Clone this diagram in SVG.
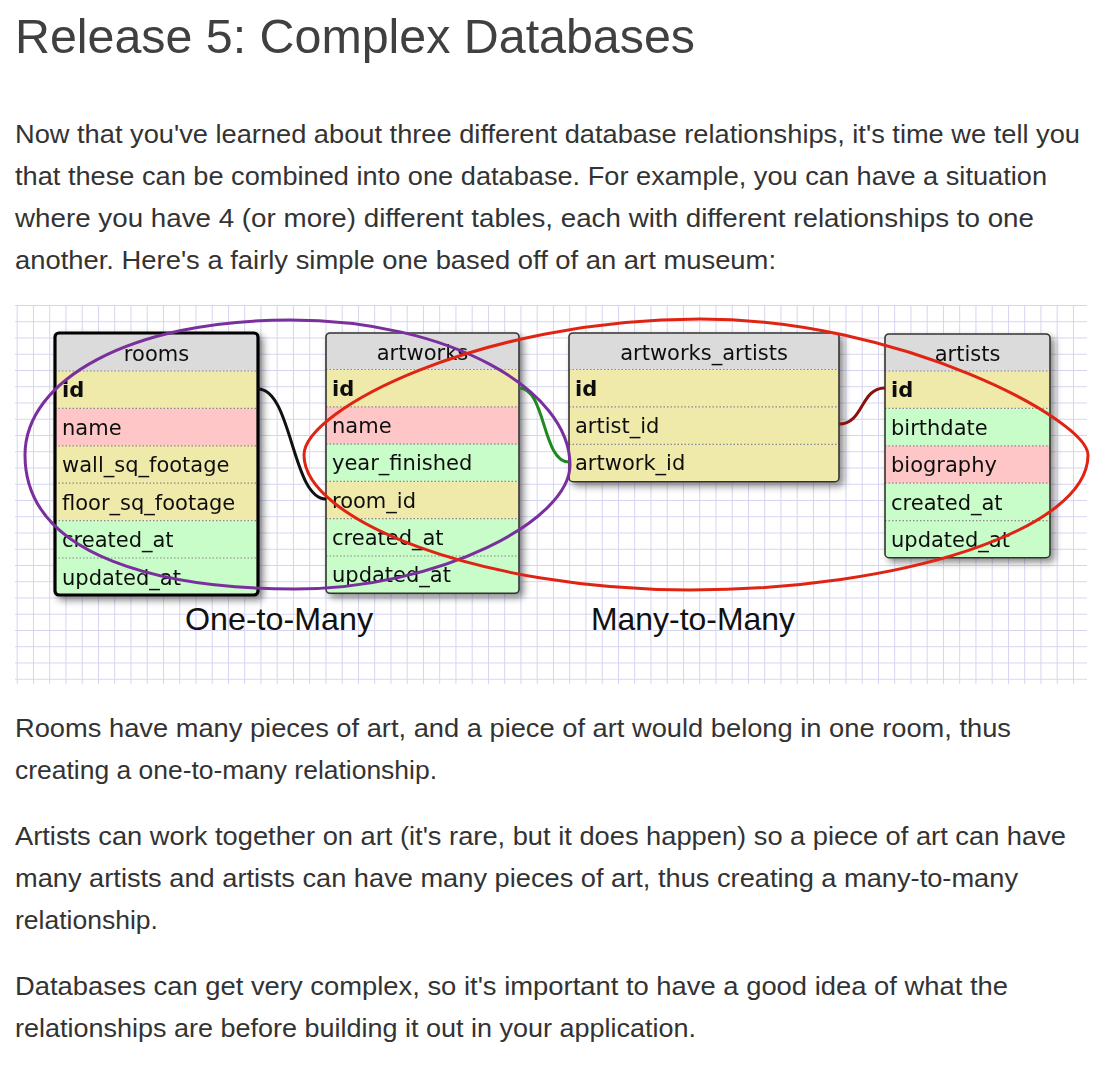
<svg xmlns="http://www.w3.org/2000/svg" width="1104" height="1072" viewBox="0 0 1104 1072">
<style>
.pg{font-family:"Liberation Sans",Arial,sans-serif;font-size:26px;fill:#333}
.ttl{font-family:"Liberation Sans",Arial,sans-serif;font-size:48px;fill:#404040}
.lbl{font-family:"Liberation Sans",Arial,sans-serif;font-size:32px;fill:#111}
.f{font-family:"DejaVu Sans",Verdana,sans-serif;font-size:21px;fill:#111}
.pk{font-weight:bold}
.hd{fill:#dbdbdb}
.y{fill:#efe9aa}
.p{fill:#fec6c6}
.g{fill:#c8fcc8}
.sep{stroke:#888;stroke-width:1.2;stroke-dasharray:1.5 2;fill:none}
.bd{fill:none;stroke:#333;stroke-width:1.6}
.bdk{fill:none;stroke:#000;stroke-width:3.2}
.conn{fill:none;stroke-width:3}
.ring{fill:none;stroke-width:3}
</style>
<defs>
<pattern id="grid" patternUnits="userSpaceOnUse" x="16.7" y="305" width="16.25" height="16.25">
<path d="M0,0 H16.25 M0,0 V16.25" fill="none" stroke="#d4d4f2" stroke-width="2"/>
</pattern>
<filter id="sh" x="-10%" y="-10%" width="125%" height="125%">
<feDropShadow dx="4" dy="4" stdDeviation="3.5" flood-color="#000" flood-opacity="0.45"/>
</filter>
</defs>
<rect width="1104" height="1072" fill="#fff"/>
<text class="ttl" x="15" y="53" textLength="680" lengthAdjust="spacingAndGlyphs">Release 5: Complex Databases</text>
<g id="intro">
<text class="pg" x="15" y="143" textLength="1065" lengthAdjust="spacingAndGlyphs">Now that you've learned about three different database relationships, it's time we tell you</text>
<text class="pg" x="15" y="185" textLength="1032" lengthAdjust="spacingAndGlyphs">that these can be combined into one database. For example, you can have a situation</text>
<text class="pg" x="15" y="227" textLength="1019" lengthAdjust="spacingAndGlyphs">where you have 4 (or more) different tables, each with different relationships to one</text>
<text class="pg" x="15" y="269" textLength="761" lengthAdjust="spacingAndGlyphs">another. Here's a fairly simple one based off of an art museum:</text>
</g>
<rect x="15" y="305" width="1072" height="379" fill="url(#grid)"/>
<g id="rooms" filter="url(#sh)">
<rect x="55" y="333" width="203" height="262" rx="4" fill="#fff"/>
<path class="hd" d="M59,333 H254 Q258,333 258,337 V371 H55 V337 Q55,333 59,333 Z"/>
<rect class="y" x="55" y="371" width="203" height="37.4"/>
<rect class="p" x="55" y="408.4" width="203" height="37.4"/>
<rect class="y" x="55" y="445.8" width="203" height="37.4"/>
<rect class="y" x="55" y="483.2" width="203" height="37.4"/>
<rect class="g" x="55" y="520.6" width="203" height="37.4"/>
<path class="g" d="M55,558 H258 V591 Q258,595 254,595 H59 Q55,595 55,591 Z"/>
<path class="sep" d="M55,371 H258 M55,408.4 H258 M55,445.8 H258 M55,483.2 H258 M55,520.6 H258 M55,558 H258"/>
<text class="f" x="156.5" y="361" text-anchor="middle">rooms</text>
<text class="f pk" x="62" y="397">id</text>
<text class="f" x="62" y="434.5">name</text>
<text class="f" x="62" y="472">wall_sq_footage</text>
<text class="f" x="62" y="509.5">floor_sq_footage</text>
<text class="f" x="62" y="547">created_at</text>
<text class="f" x="62" y="584.5">updated_at</text>
<rect class="bdk" x="55" y="333" width="203" height="262" rx="4"/>
</g>
<g id="artworks" filter="url(#sh)">
<rect x="326" y="333" width="193" height="260.3" rx="4" fill="#fff"/>
<path class="hd" d="M330,333 H515 Q519,333 519,337 V369.5 H326 V337 Q326,333 330,333 Z"/>
<rect class="y" x="326" y="369.5" width="193" height="37.3"/>
<rect class="p" x="326" y="406.8" width="193" height="37.3"/>
<rect class="g" x="326" y="444.1" width="193" height="37.3"/>
<rect class="y" x="326" y="481.4" width="193" height="37.3"/>
<rect class="g" x="326" y="518.7" width="193" height="37.3"/>
<path class="g" d="M326,556 H519 V589.3 Q519,593.3 515,593.3 H330 Q326,593.3 326,589.3 Z"/>
<path class="sep" d="M326,369.5 H519 M326,406.8 H519 M326,444.1 H519 M326,481.4 H519 M326,518.7 H519 M326,556 H519"/>
<text class="f" x="422.5" y="359.5" text-anchor="middle">artworks</text>
<text class="f pk" x="332" y="395.5">id</text>
<text class="f" x="332" y="433">name</text>
<text class="f" x="332" y="470">year_finished</text>
<text class="f" x="332" y="507.5">room_id</text>
<text class="f" x="332" y="545">created_at</text>
<text class="f" x="332" y="582">updated_at</text>
<rect class="bd" x="326" y="333" width="193" height="260.3" rx="4"/>
</g>
<g id="artworks_artists" filter="url(#sh)">
<rect x="569" y="333" width="270" height="148.7" rx="4" fill="#fff"/>
<path class="hd" d="M573,333 H835 Q839,333 839,337 V369.5 H569 V337 Q569,333 573,333 Z"/>
<rect class="y" x="569" y="369.5" width="270" height="37.4"/>
<rect class="y" x="569" y="406.9" width="270" height="37.4"/>
<path class="y" d="M569,444.3 H839 V477.7 Q839,481.7 835,481.7 H573 Q569,481.7 569,477.7 Z"/>
<path class="sep" d="M569,369.5 H839 M569,406.9 H839 M569,444.3 H839"/>
<text class="f" x="704" y="359.5" text-anchor="middle">artworks_artists</text>
<text class="f pk" x="575" y="395.5">id</text>
<text class="f" x="575" y="433">artist_id</text>
<text class="f" x="575" y="470">artwork_id</text>
<rect class="bd" x="569" y="333" width="270" height="148.7" rx="4"/>
</g>
<g id="artists" filter="url(#sh)">
<rect x="885" y="334" width="165" height="223.7" rx="4" fill="#fff"/>
<path class="hd" d="M889,334 H1046 Q1050,334 1050,338 V371 H885 V338 Q885,334 889,334 Z"/>
<rect class="y" x="885" y="371" width="165" height="37.4"/>
<rect class="g" x="885" y="408.4" width="165" height="37.4"/>
<rect class="p" x="885" y="445.8" width="165" height="37.4"/>
<rect class="g" x="885" y="483.2" width="165" height="37.4"/>
<path class="g" d="M885,520.6 H1050 V553.7 Q1050,557.7 1046,557.7 H889 Q885,557.7 885,553.7 Z"/>
<path class="sep" d="M885,371 H1050 M885,408.4 H1050 M885,445.8 H1050 M885,483.2 H1050 M885,520.6 H1050"/>
<text class="f" x="967.5" y="361" text-anchor="middle">artists</text>
<text class="f pk" x="891" y="397">id</text>
<text class="f" x="891" y="434.5">birthdate</text>
<text class="f" x="891" y="472">biography</text>
<text class="f" x="891" y="509.5">created_at</text>
<text class="f" x="891" y="547">updated_at</text>
<rect class="bd" x="885" y="334" width="165" height="223.7" rx="4"/>
</g>
<g id="connectors">
<path class="conn" stroke="#111" d="M258,389 C292,389 292,499 326,499"/>
<path class="conn" stroke="#1f8a1f" d="M519,388 C546,388 542,462 569,462"/>
<path class="conn" stroke="#8b1010" d="M839,424 C864,424 860,388 885,388"/>
</g>
<g id="labels">
<text class="lbl" x="185" y="630" textLength="188" lengthAdjust="spacingAndGlyphs">One-to-Many</text>
<text class="lbl" x="591" y="630" textLength="204" lengthAdjust="spacingAndGlyphs">Many-to-Many</text>
</g>
<g id="groupings">
<path class="ring" stroke="#7a2f9e" d="M290,320 C130,320 25,380 25,455 C25,560 170,589 295,589 C440,589 570,520 570,465 C570,390 450,320 290,320 Z"/>
<path class="ring" stroke="#e02414" d="M700,319 C480,319 304,410 304,455 C304,520 480,590 690,590 C900,590 1088,530 1088,455 C1088,420 900,319 700,319 Z"/>
</g>
<g id="outro">
<text class="pg" x="15" y="737" textLength="996" lengthAdjust="spacingAndGlyphs">Rooms have many pieces of art, and a piece of art would belong in one room, thus</text>
<text class="pg" x="15" y="779" textLength="422" lengthAdjust="spacingAndGlyphs">creating a one-to-many relationship.</text>
<text class="pg" x="15" y="845" textLength="1051" lengthAdjust="spacingAndGlyphs">Artists can work together on art (it's rare, but it does happen) so a piece of art can have</text>
<text class="pg" x="15" y="887" textLength="1003" lengthAdjust="spacingAndGlyphs">many artists and artists can have many pieces of art, thus creating a many-to-many</text>
<text class="pg" x="15" y="929" textLength="143" lengthAdjust="spacingAndGlyphs">relationship.</text>
<text class="pg" x="15" y="995" textLength="993" lengthAdjust="spacingAndGlyphs">Databases can get very complex, so it's important to have a good idea of what the</text>
<text class="pg" x="15" y="1037" textLength="681" lengthAdjust="spacingAndGlyphs">relationships are before building it out in your application.</text>
</g>
</svg>
